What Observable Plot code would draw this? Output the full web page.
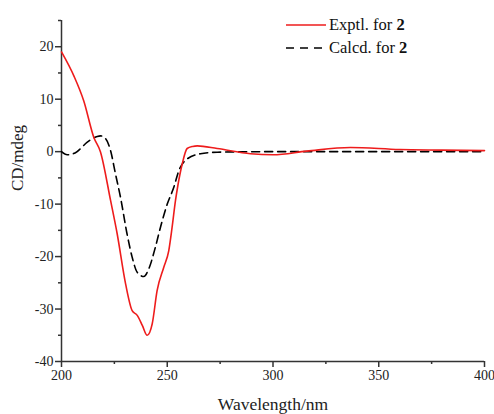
<!DOCTYPE html>
<html>
<head>
<meta charset="utf-8">
<script src="https://cdn.jsdelivr.net/npm/d3@7"></script>
<script src="https://cdn.jsdelivr.net/npm/@observablehq/plot@0.6"></script>
<style>
  html, body { margin: 0; padding: 0; background: #fff; }
  #wrap { position: relative; width: 494px; height: 414px; font-family: "Liberation Serif", "DejaVu Serif", serif; }
  #legend { position: absolute; left: 286px; top: 13px; font-size: 16.5px; color: #111; line-height: 23px; }
  #legend .row { display: flex; align-items: center; white-space: nowrap; }
  #legend svg { margin-right: 3px; }
</style>
</head>
<body>
<div id="wrap"><div id="legend"></div></div>
<script>
// Experimental CD spectrum (red)
const expWl = [200, 206, 210.5, 215.3, 218.4, 223.2, 226.3, 230.3, 233.4, 235.8, 238.2, 240.5, 242.9, 245.2, 248.4, 250.7, 252.3, 253.9, 255, 257.1, 259.4, 262, 264.2, 273.6, 289.4, 300, 316, 336.6, 360, 380, 400];
const expCd = [19, 14.3, 9.7, 2.7, 0, -9.3, -15.6, -25.2, -30.3, -31.2, -33.1, -35, -32.8, -26.5, -22, -18.9, -14.4, -9.3, -6.5, -2.3, 0.6, 1.0, 1.1, 0.6, -0.4, -0.6, 0.1, 0.8, 0.4, 0.3, 0.2];
// Calculated ECD spectrum (dashed black)
const calWl = [200, 202.7, 206.6, 212.2, 216.9, 218.5, 220.8, 223.2, 225.5, 227.9, 231, 233.4, 235.8, 238.9, 241.3, 244.4, 246.8, 250, 253.1, 255.5, 259.4, 265.7, 273.6, 300, 350, 400];
const calCd = [0, -0.6, -0.2, 1.8, 2.9, 3.0, 2.5, 0.2, -4.2, -8.7, -15.7, -20.1, -23, -23.8, -22.3, -18.2, -14.4, -10, -6.8, -3.6, -1.4, -0.4, -0.1, 0, 0, 0];

const xTicks = [200, 250, 300, 350, 400];
const xMinor = [225, 275, 325, 375];
const yTicks = [-40, -30, -20, -10, 0, 10, 20];
const yMinor = [-35, -25, -15, -5, 5, 15, 25];

const seriesNames = ["Exptl. for ", "Calcd. for "];
const compound = "2";

const expData = expWl.map((w, i) => ({w, cd: expCd[i]}));
const calData = calWl.map((w, i) => ({w, cd: calCd[i]}));

const axisColor = "#333";
const fmt = d => String(d);
const chart = Plot.plot({
  width: 494,
  height: 414,
  marginLeft: 61,
  marginRight: 10,
  marginTop: 20,
  marginBottom: 53,
  style: {fontFamily: "'Liberation Serif', serif", fontSize: "14px", color: "#222", background: "#fff"},
  x: {domain: [200, 400]},
  y: {domain: [-40, 25]},
  marks: [
    Plot.axisX({ticks: xTicks, tickFormat: fmt, tickSize: 6, tickPadding: 3, stroke: axisColor, strokeWidth: 1.5, fontSize: 14, label: null}),
    Plot.axisX({ticks: xMinor, tickSize: 3, text: null, stroke: axisColor, strokeWidth: 1.5, label: null}),
    Plot.axisY({ticks: yTicks, tickFormat: fmt, tickSize: 6, tickPadding: 2, stroke: axisColor, strokeWidth: 1.5, fontSize: 14, label: null}),
    Plot.axisY({ticks: yMinor, tickSize: 3, text: null, stroke: axisColor, strokeWidth: 1.5, label: null}),
    Plot.ruleX([200], {y1: -40, y2: 25, stroke: axisColor, strokeWidth: 1.5}),
    Plot.ruleY([-40], {x1: 200, x2: 400, stroke: axisColor, strokeWidth: 1.5}),
    Plot.line(calData, {x: "w", y: "cd", stroke: "#000", strokeWidth: 1.6, strokeDasharray: "8,5", curve: "monotone-x"}),
    Plot.line(expData, {x: "w", y: "cd", stroke: "#ee1c1c", strokeWidth: 1.6, curve: "monotone-x"}),
    Plot.text(["Wavelength/nm"], {frameAnchor: "bottom", dy: 48, fontSize: 17.5, fill: "#222"}),
    Plot.text(["CD/mdeg"], {frameAnchor: "left", dx: -44, rotate: -90, fontSize: 17, fill: "#222"})
  ]
});
document.getElementById("wrap").prepend(chart);
chart.style.position = "absolute";
chart.style.left = "0";
chart.style.top = "0";

const legend = document.getElementById("legend");
const styles = [
  {stroke: "#ee1c1c", dash: null},
  {stroke: "#000", dash: "8,6"}
];
seriesNames.forEach((name, i) => {
  const row = document.createElement("div");
  row.className = "row";
  const s = styles[i];
  row.innerHTML = `<svg width="40" height="10"><line x1="0" y1="5" x2="40" y2="5" stroke="${s.stroke}" stroke-width="1.6" ${s.dash ? `stroke-dasharray="${s.dash}"` : ""}/></svg><span>${name}<b>${compound}</b></span>`;
  legend.appendChild(row);
});
</script>
</body>
</html>
